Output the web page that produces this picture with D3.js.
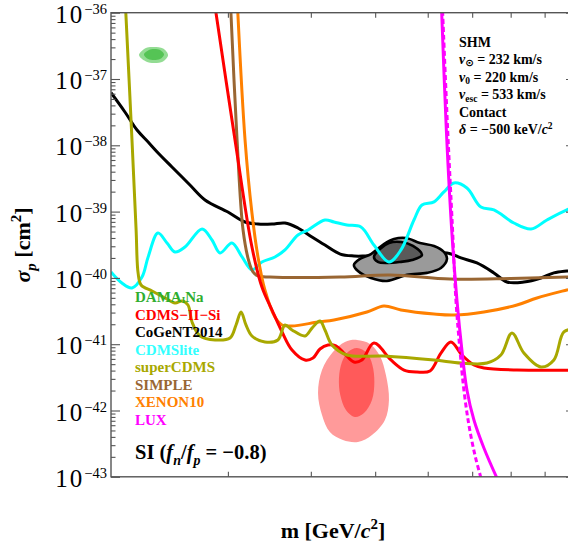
<!DOCTYPE html>
<html><head><meta charset="utf-8">
<script src="https://cdn.jsdelivr.net/npm/d3@7"></script>
<style>body{margin:0;background:#fff}svg{display:block}</style>
</head><body>
<svg id="c" width="568" height="548"></svg>
<script>
// ---------- data (mass in GeV, sigma_p in cm^2) ----------
const xDomain = [2, 10];
const yDomain = [1e-43, 1e-36];
const yMajorExp = [-43, -42, -41, -40, -39, -38, -37, -36];
const xTickValues = [3, 4, 5, 6, 7, 8, 9, 10];

const legendNames = ["DAMA", "CDMS\u2212II\u2212Si", "CoGeNT2014", "CDMSlite", "superCDMS", "SIMPLE", "XENON10", "LUX"];
const legendColors = ["#2fae2f", "#ff0000", "#000000", "#33ffff", "#a8a800", "#996633", "#ff8000", "#ff00ff"];

const superCDMS = [[2.102,1.4e-36],[2.151,1.20e-38],[2.182,5.28e-40],[2.197,1.19e-40],[2.220,7.82e-41],[2.306,6.34e-41],[2.413,4.98e-41],[2.497,4.18e-41],[2.559,4.49e-41],[2.612,3.90e-41],[2.649,2.16e-41],[2.724,1.33e-41],[2.870,1.16e-41],[3.022,1.24e-41],[3.086,1.95e-41],[3.140,3.06e-41],[3.194,1.95e-41],[3.261,1.33e-41],[3.411,1.08e-41],[3.568,1.16e-41],[3.657,1.95e-41],[3.747,1.64e-41],[3.920,1.33e-41],[4.016,1.75e-41],[4.129,2.24e-41],[4.201,1.64e-41],[4.304,9.73e-42],[4.533,6.87e-42],[5.154,6.64e-42],[6.132,5.78e-42],[6.733,5.20e-42],[7.368,5.20e-42],[7.733,6.87e-42],[8.036,1.48e-41],[8.375,7.36e-42],[8.886,4.53e-42],[9.294,5.78e-42],[9.622,1.53e-41],[10,1.7e-41]];

const cdmsSi = [[2.864,1.4e-36],[3.075,1.20e-38],[3.261,2.92e-40],[3.376,7.29e-41],[3.496,3.28e-41],[3.620,1.53e-41],[3.747,8.18e-42],[3.920,5.78e-42],[4.030,6.19e-42],[4.129,8.47e-42],[4.245,9.7e-42],[4.364,9.40e-42],[4.486,7.36e-42],[4.645,5.39e-42],[4.775,5.78e-42],[4.979,1.04e-41],[5.281,5.78e-42],[5.526,4.08e-42],[5.780,3.81e-42],[6.047,3.94e-42],[6.281,7.36e-42],[6.503,1.08e-41],[6.755,6.87e-42],[7.043,4.86e-42],[7.291,4.38e-42],[8.177,4.08e-42],[10,4.08e-42]];

const simple = [[3.027,1.4e-36],[3.097,1.20e-38],[3.162,5.28e-40],[3.228,1.74e-40],[3.273,1.23e-40],[3.330,1.07e-40],[3.471,1.03e-40],[4.43,1.03e-40],[5.263,1.11e-40],[6.48,9.62e-41],[8.0,9.8e-41],[9.72,1.03e-40],[10,1.04e-40]];

const xenon10 = [[3.100,1.4e-36],[3.184,1.20e-38],[3.261,9.53e-40],[3.330,2.07e-40],[3.411,6.57e-41],[3.532,2.57e-41],[3.620,1.95e-41],[3.747,1.88e-41],[4.101,2.16e-41],[4.334,2.32e-41],[4.860,3.06e-41],[5.154,3.77e-41],[5.468,3.28e-41],[6.132,2.85e-41],[6.571,2.75e-41],[7.291,3.06e-41],[8.177,3.90e-41],[8.764,4.98e-41],[9.72,6.57e-41],[10,7.05e-41]];

const cogentLine = [[2.0,6.21e-38],[2.099,3.18e-38],[2.189,1.70e-38],[2.275,1.12e-38],[2.371,7.14e-39],[2.471,4.71e-39],[2.630,2.52e-39],[2.771,1.50e-39],[3.000,9.86e-40],[3.184,6.97e-40],[3.330,6.50e-40],[3.496,6.50e-40],[3.657,6.73e-40],[3.825,5.66e-40],[4.016,4.14e-40],[4.201,3.13e-40],[4.43,2.29e-40],[4.645,2.14e-40],[4.843,2.14e-40],[5.45,2.22e-40],[6.414,2.38e-40],[6.733,2.00e-40],[7.116,1.68e-40],[7.548,1.19e-40],[7.897,8.68e-41],[8.375,8.68e-41],[8.886,9.97e-41],[9.294,1.19e-40],[9.72,1.27e-40],[10,1.30e-40]];

const cdmsLite = [[2.0,1.23e-40],[2.077,8.38e-41],[2.151,7.05e-41],[2.227,1.03e-40],[2.275,2.07e-40],[2.354,4.75e-40],[2.429,3.36e-40],[2.497,2.46e-40],[2.585,2.92e-40],[2.743,5.47e-40],[2.839,3.73e-40],[2.919,2.38e-40],[3.042,3.36e-40],[3.151,2.07e-40],[3.261,1.32e-40],[3.376,1.74e-40],[3.532,2.07e-40],[3.657,2.64e-40],[3.825,4.44e-40],[3.961,5.28e-40],[4.201,7.47e-40],[4.334,6.97e-40],[4.533,6.28e-40],[4.759,5.86e-40],[4.979,3.13e-40],[5.245,1.74e-40],[5.468,2.64e-40],[5.720,7.47e-40],[5.881,1.26e-39],[6.132,1.40e-39],[6.347,1.98e-39],[6.571,2.70e-39],[6.874,2.27e-39],[7.216,1.17e-39],[7.548,1.06e-39],[8.090,6.73e-40],[8.584,5.47e-40],[9.072,7.47e-40],[9.72,1.06e-39],[10,1.17e-39]];

const luxSolid = [[6.29,1.4e-36],[6.40,1.70e-38],[6.52,5.28e-40],[6.640,4.64e-41],[6.755,8.18e-42],[6.874,2.04e-42],[7.043,7.19e-43],[7.291,2.72e-43],[7.627,9.6e-44],[7.8,6e-44]];
const luxDashed = [[6.31,1.4e-36],[6.43,1.70e-38],[6.54,5.28e-40],[6.616,4.64e-41],[6.709,8.18e-42],[6.802,2.04e-42],[6.921,6.04e-43],[7.067,2.13e-43],[7.216,9.6e-44],[7.3,6e-44]];

const damaOuter = [[2.204,2.30e-37],[2.258,2.94e-37],[2.322,3.04e-37],[2.396,2.88e-37],[2.438,2.30e-37],[2.396,1.84e-37],[2.322,1.74e-37],[2.258,1.84e-37]];
const damaInner = [[2.242,2.34e-37],[2.281,2.74e-37],[2.322,2.84e-37],[2.371,2.74e-37],[2.404,2.34e-37],[2.371,2.00e-37],[2.322,1.93e-37],[2.275,2.00e-37]];

const cogentOuter = [[4.645,1.57e-40],[4.742,1.93e-40],[4.928,2.29e-40],[5.154,3.24e-40],[5.337,3.86e-40],[5.564,4.00e-40],[5.841,3.36e-40],[6.132,3.03e-40],[6.347,2.46e-40],[6.414,1.93e-40],[6.281,1.41e-40],[5.984,1.19e-40],[5.583,1.11e-40],[5.208,8.98e-41],[4.928,9.97e-41],[4.710,1.27e-40]];
const cogentInner = [[4.979,2.07e-40],[5.083,2.73e-40],[5.245,3.36e-40],[5.468,3.48e-40],[5.700,3.03e-40],[5.881,2.22e-40],[5.680,1.86e-40],[5.45,1.74e-40],[5.227,1.68e-40],[5.048,1.74e-40]];

const siOuter = [[4.694,1.16e-41],[4.911,1.01e-41],[5.083,6.64e-42],[5.190,3.43e-42],[5.245,1.44e-42],[5.172,7.19e-43],[4.945,4.27e-43],[4.710,3.35e-43],[4.471,3.59e-43],[4.273,4.74e-43],[4.158,8.55e-43],[4.101,1.84e-42],[4.158,4.08e-42],[4.318,7.63e-42],[4.502,1.08e-41]];
const siInner = [[4.694,8.77e-42],[4.860,7.36e-42],[4.952,4.86e-42],[4.986,2.69e-42],[4.945,1.44e-42],[4.810,9.17e-43],[4.662,7.98e-43],[4.518,1.02e-42],[4.43,1.71e-42],[4.410,3.09e-42],[4.456,5.39e-42],[4.549,7.63e-42]];

// ---------- layout ----------
const L = 111, R = 575, T = 12.7, B = 476.8;
const svg = d3.select("#c");
const serif = "'Liberation Serif','Times New Roman',serif";
const x = d3.scaleLog().domain(xDomain).range([L, R]);
const y = d3.scaleLog().domain(yDomain).range([B, T]);

svg.append("defs").append("clipPath").attr("id", "clip")
  .append("rect").attr("x", L).attr("y", T).attr("width", R - L).attr("height", B - T);
const plot = svg.append("g").attr("clip-path", "url(#clip)");

const line = d3.line().x(d => x(d[0])).y(d => y(d[1])).curve(d3.curveCatmullRom.alpha(0.5));
const closed = d3.line().x(d => x(d[0])).y(d => y(d[1])).curve(d3.curveCatmullRomClosed.alpha(0.5));

function drawLine(data, color, w, dash) {
  const p = plot.append("path").attr("d", line(data)).attr("fill", "none")
    .attr("stroke", color).attr("stroke-width", w).attr("stroke-linejoin", "round");
  if (dash) p.attr("stroke-dasharray", dash);
}
function drawRegion(data, fill, stroke, sw) {
  plot.append("path").attr("d", closed(data)).attr("fill", fill)
    .attr("stroke", stroke || "none").attr("stroke-width", sw || 0);
}

drawLine(cogentLine, "#000", 3);
drawRegion(damaOuter, "#93dc93");
drawRegion(damaInner, "#55c455");
drawRegion(siOuter, "#ff9a9a");
drawRegion(siInner, "#ff5a5a");
drawRegion(cogentOuter, "#9a9a9a", "#000", 2.6);
drawRegion(cogentInner, "#5a5a5a", "#000", 2.6);
drawLine(cdmsLite, "#00ffff", 3);
drawLine(simple, "#996633", 3);
drawLine(xenon10, "#ff8000", 3);
drawLine(cdmsSi, "#ff0000", 3);
drawLine(superCDMS, "#a8a800", 3);
drawLine(luxSolid, "#ff00ff", 3);
drawLine(luxDashed, "#ff00ff", 3, "5,3");

// ---------- axes ----------
const yMajor = yMajorExp.map(e => Math.pow(10, e));
const yMinor = [];
yMajorExp.slice(0, -1).forEach(e => { for (let k = 2; k <= 9; k++) yMinor.push(k * Math.pow(10, e)); });

function styleAxis(g) {
  g.select(".domain").remove();
  g.selectAll(".tick line").attr("stroke", "#555").attr("stroke-width", 1.1);
  g.selectAll(".tick text").remove();
}
svg.append("g").attr("transform", `translate(${L},0)`)
  .call(d3.axisLeft(y).tickValues(yMajor).tickSize(-9).tickFormat("")).call(styleAxis);
svg.append("g").attr("transform", `translate(${L},0)`)
  .call(d3.axisLeft(y).tickValues(yMinor).tickSize(-4.5).tickFormat("")).call(styleAxis);
svg.append("g").attr("transform", `translate(${R},0)`)
  .call(d3.axisRight(y).tickValues(yMajor).tickSize(-9).tickFormat("")).call(styleAxis);
svg.append("g").attr("transform", `translate(${R},0)`)
  .call(d3.axisRight(y).tickValues(yMinor).tickSize(-4.5).tickFormat("")).call(styleAxis);
svg.append("g").attr("transform", `translate(0,${B})`)
  .call(d3.axisBottom(x).tickValues(xTickValues).tickSize(-5).tickFormat("")).call(styleAxis);
svg.append("g").attr("transform", `translate(0,${T})`)
  .call(d3.axisTop(x).tickValues(xTickValues).tickSize(-5).tickFormat("")).call(styleAxis);

svg.append("rect").attr("x", L).attr("y", T).attr("width", R - L).attr("height", B - T)
  .attr("fill", "none").attr("stroke", "#555").attr("stroke-width", 1.4);

// rich text helper (sub/sup shifts as fraction of font size)
function rich(parent, px, py, parts, o) {
  const t = parent.append("text").attr("x", px).attr("y", py)
    .attr("font-family", serif).attr("font-size", o.size)
    .attr("font-weight", o.bold ? "bold" : "normal")
    .attr("fill", o.fill || "#000").attr("text-anchor", o.anchor || "start");
  if (o.transform) t.attr("transform", o.transform);
  const subK = o.subK != null ? o.subK : 0.28, supK = o.supK != null ? o.supK : 0.42;
  let cur = 0;
  parts.forEach(p => {
    const ts = t.append("tspan").text(p.t);
    const target = p.sub ? o.size * subK : p.sup ? -o.size * supK : 0;
    ts.attr("dy", target - cur); cur = target;
    if (p.sub || p.sup) ts.attr("font-size", o.size * (p.scale || 0.68));
    if (p.i) ts.attr("font-style", "italic");
    if (p.fam) ts.attr("font-family", p.fam);
    if (p.ls) ts.attr("letter-spacing", p.ls);
  });
  return t;
}

// y tick labels
yMajorExp.forEach((e, i) => {
  rich(svg, 107, y(yMajor[i]) + 10, [{t: "10", ls: 2}, {t: "\u2212" + Math.abs(e), sup: true, scale: 0.58}],
    {size: 25, anchor: "end", supK: 0.36});
});

// axis titles
rich(svg, 333, 538, [{t: "m [GeV/"}, {t: "c", i: true}, {t: "2", sup: true}, {t: "]"}], {size: 22, bold: true, anchor: "middle"});
rich(svg, 0, 0, [{t: "\u03c3", i: true}, {t: "p", sub: true, i: true}, {t: " [cm"}, {t: "2", sup: true}, {t: "]"}],
  {size: 22, bold: true, anchor: "middle", transform: "translate(30,245) rotate(-90)"});

// legend
const legBase = [302, 319.5, 337, 354.5, 372, 389.5, 407, 424.5];
legendNames.forEach((n, i) => {
  const parts = i === 0 ? [{t: "DAMA"}, {t: "I", sub: true, scale: 0.6}, {t: "Na"}] : [{t: n}];
  rich(svg, 135, legBase[i], parts, {size: 15, bold: true, fill: legendColors[i], subK: 0.08});
});

rich(svg, 135, 459, [{t: "SI ("}, {t: "f", i: true}, {t: "n", sub: true, i: true}, {t: "/"}, {t: "f", i: true},
  {t: "p", sub: true, i: true}, {t: " = \u22120.8)"}], {size: 20.5, bold: true});

// halo annotations
const ann = [
  [{t: "SHM"}],
  [{t: "v", i: true}, {t: "\u2299", sub: true, fam: "'DejaVu Sans'", scale: 0.72}, {t: " = 232 km/s"}],
  [{t: "v", i: true}, {t: "0", sub: true}, {t: " = 220 km/s"}],
  [{t: "v", i: true}, {t: "esc", sub: true}, {t: " = 533 km/s"}],
  [{t: "Contact"}],
  [{t: "\u03b4", i: true}, {t: " = \u2212500 keV/"}, {t: "c", i: true}, {t: "2", sup: true}]
];
const annBase = [47, 63.5, 81.5, 99, 117, 134];
ann.forEach((p, i) => rich(svg, 459, annBase[i], p, {size: 14, bold: true, subK: 0.18, supK: 0.33}));
</script>
</body></html>
